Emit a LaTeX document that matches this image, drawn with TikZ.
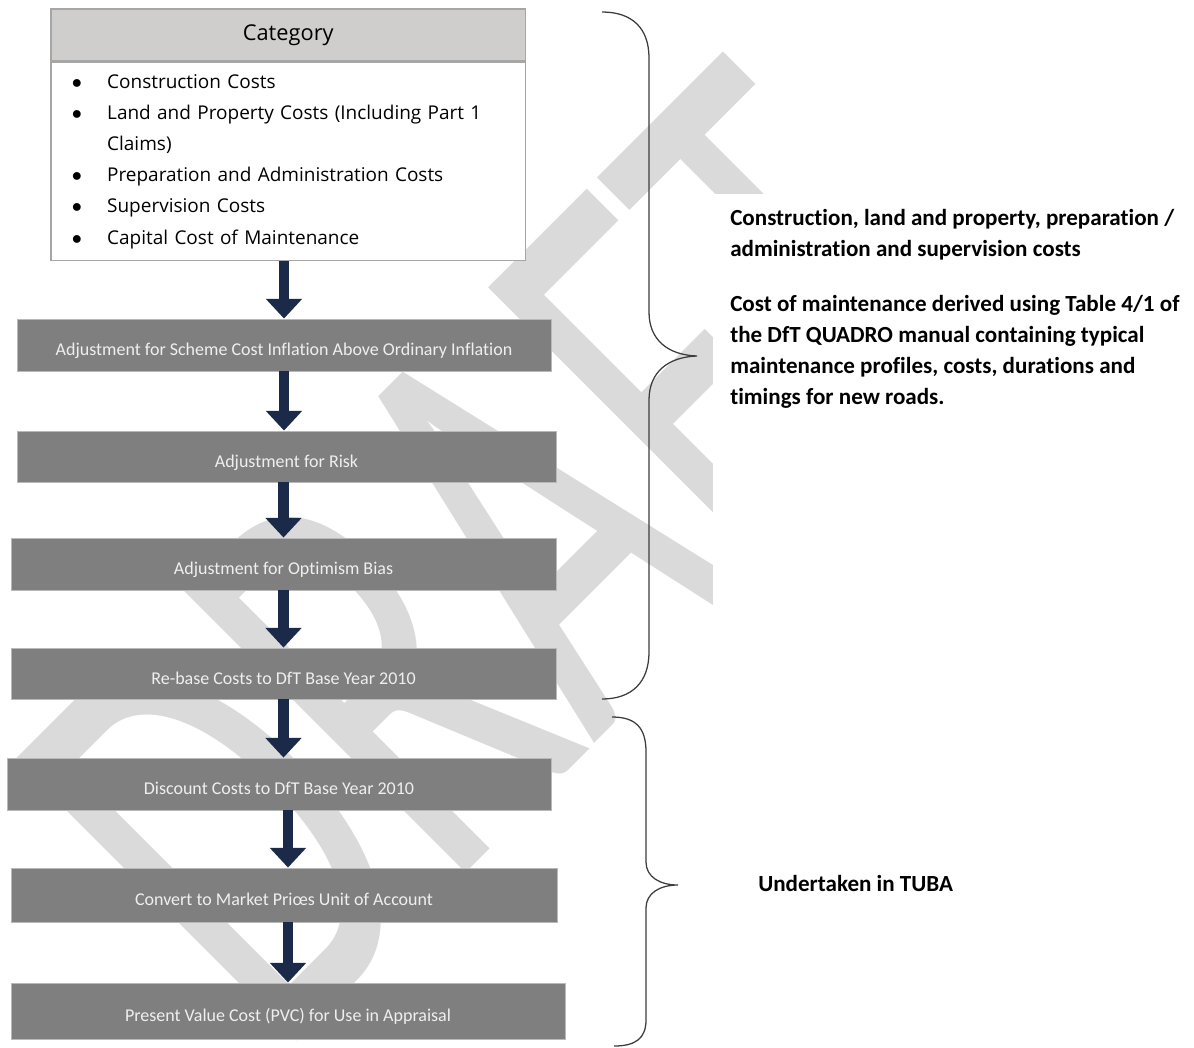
\documentclass[tikz,border=0pt]{standalone}
\usepackage{fontspec}
\setmainfont{Carlito}[Ligatures=NoCommon]
\newfontfamily\catfont{Open Sans}
\usetikzlibrary{arrows.meta,positioning}
\definecolor{boxgray}{HTML}{7F7F7F}
\definecolor{headgray}{HTML}{D0CDCD}
\definecolor{catline}{HTML}{A6A6A6}
\definecolor{navy}{HTML}{1A2A48}
\definecolor{wmgray}{HTML}{DADADA}
\definecolor{bracegray}{HTML}{3C3C3C}
\definecolor{boxtext}{HTML}{EFEFEF}
\tikzset{
  stepbox/.style={fill=boxgray, draw=gray!55, line width=0.6pt, text=boxtext, inner sep=0pt,
    font=\fontsize{12.8}{14}\selectfont, text height=15.5pt, text depth=0pt},
  flow/.style={-{Triangle[width=25pt,length=14pt]}, line width=7.5pt, navy},
  brace/.style={bracegray, line width=0.9pt},
  note/.style={font=\bfseries\fontsize{16.4}{21.9}\selectfont, align=left, inner sep=0pt}
}
\newcommand{\catitem}[1]{\makebox[25pt][l]{$\bullet$}#1}
\begin{document}
\begin{tikzpicture}[x=0.025cm, y=-0.025cm]
\useasboundingbox (0,0) rectangle (1194,1047);
% watermark behind everything
\begin{scope}
  \clip (0,0) -- (1194,0) -- (1194,193) -- (712,193) -- (712,1047) -- (0,1047) -- cycle;
  \node[wmgray, rotate=45, inner sep=0pt, font=\fontsize{441}{441}\selectfont] (wm) at (503,554) {\scalebox{0.62}[1]{DRAFT}};
\end{scope}

\node[draw=catline, fill=headgray, line width=1pt, minimum width=11.86cm, minimum height=1.3cm,
  font=\catfont\fontsize{15.5}{17}\selectfont] (cathead) at (288.25,35) {Category};
\node[draw=catline, fill=white, line width=1pt, minimum width=11.86cm, minimum height=4.95cm,
  text width=10.81cm, inner sep=0pt, align=left, below=0pt of cathead,
  font=\catfont\fontsize{13.5}{22.2}\selectfont] (catbody) {%
  \catitem{Construction Costs}\\
  \catitem{Land and Property Costs (Including Part 1}\\
  \hspace*{25pt}Claims)\\
  \catitem{Preparation and Administration Costs}\\
  \catitem{Supervision Costs}\\
  \catitem{Capital Cost of Maintenance}};

\node[stepbox, minimum width=13.35cm, minimum height=1.3cm] (b2) at (284,345) {Adjustment for Scheme Cost Inflation Above Ordinary Inflation};
\node[stepbox, minimum width=13.475cm, minimum height=1.275cm] (b3) at (286.5,456.5) {Adjustment for Risk};
\node[stepbox, minimum width=13.625cm, minimum height=1.3cm] (b4) at (283.5,564) {Adjustment for Optimism Bias};
\node[stepbox, minimum width=13.625cm, minimum height=1.275cm] (b5) at (283.5,673.5) {Re-base Costs to DfT Base Year 2010};
\node[stepbox, minimum width=13.6cm, minimum height=1.3cm] (b6) at (279,784) {Discount Costs to DfT Base Year 2010};
\node[stepbox, minimum width=13.65cm, minimum height=1.35cm] (b7) at (284,895) {Convert to Market Priœs Unit of Account};
\node[stepbox, minimum width=13.85cm, minimum height=1.4cm] (b8) at (288,1011) {Present Value Cost (PVC) for Use in Appraisal};

\draw[flow] (catbody.south -| b2.north) -- (b2.north);
\draw[flow] (b2.south) -- (b3.north -| b2.south);
\draw[flow] (b3.south -| b4.north) -- (b4.north);
\draw[flow] (b4.south) -- (b5.north);
\draw[flow] (b5.south) -- (b6.north -| b5.south);
\draw[flow] (b6.south -| b8.north) -- (b7.north -| b8.north);
\draw[flow] (b7.south -| b8.north) -- (b8.north);

\draw[brace] (602,12) .. controls (632,12) and (649,28) .. (649,58) -- (649,312)
  .. controls (649,340) and (668,355) .. (697,356) .. controls (668,357) and (649,372) .. (649,400)
  -- (649,652) .. controls (649,682) and (632,699) .. (602,699);
\draw[brace] (612,717) .. controls (636,717) and (646,728) .. (646,752) -- (646,862)
  .. controls (646,877) and (660,885) .. (678,885) .. controls (660,885) and (646,893) .. (646,908)
  -- (646,1020) .. controls (646,1038) and (636,1046) .. (614,1046);

\node[note, anchor=north west] (notes) at (730,209) {Construction, land and property, preparation /\\
  administration and supervision costs\\[17.5pt]
  Cost of maintenance derived using Table 4/1 of\\
  the DfT QUADRO manual containing typical\\
  maintenance profiles, costs, durations and\\
  timings for new roads.};
\node[note, anchor=west] (tuba) at (758,883) {Undertaken in TUBA};
\end{tikzpicture}
\end{document}
